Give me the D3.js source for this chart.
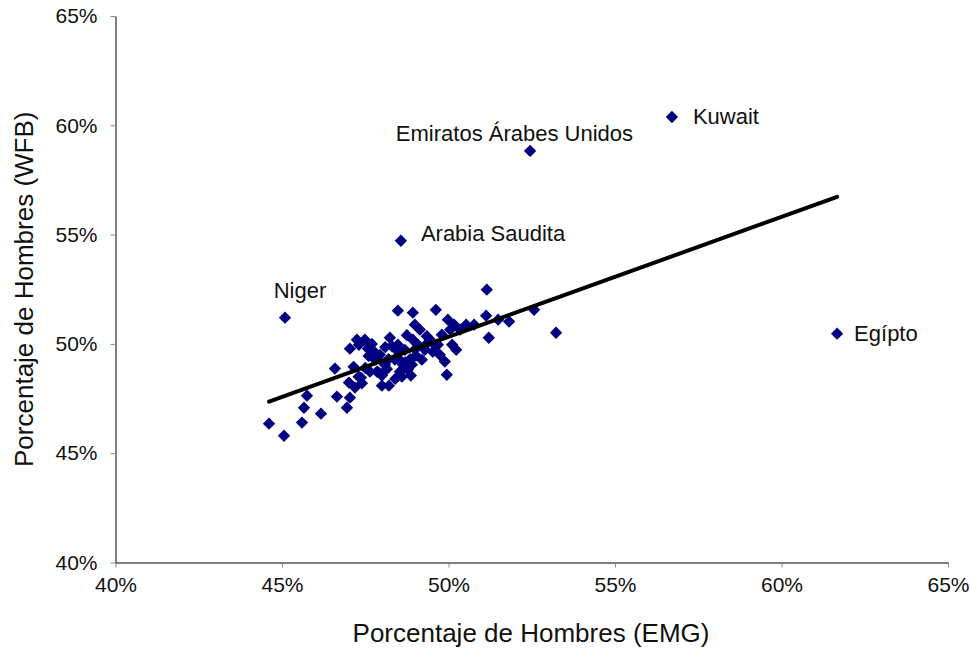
<!DOCTYPE html>
<html>
<head>
<meta charset="utf-8">
<script src="https://cdn.jsdelivr.net/npm/d3@7"></script>
<style>
  body { margin: 0; background: #fff; }
  svg text { font-family: "Liberation Sans", Arial, sans-serif; fill: #111; }
</style>
</head>
<body>
<svg id="chart" width="970" height="652"></svg>
<script>
// EMG (x) vs WFB (y), percent of men
var emg = [56.71, 52.45, 48.57, 45.09, 61.67, 53.23, 51.15, 52.57, 51.21,
    44.61, 45.06, 45.6, 45.66, 45.75, 46.17, 46.59, 46.65, 46.95, 47.04, 47.01,
    47.04, 47.19, 47.25, 47.31, 47.37, 47.49, 47.58, 47.64, 47.79, 47.85,
    47.94, 48.0, 48.09, 48.21, 48.24, 48.39, 48.48, 48.48, 48.54, 48.63,
    48.69, 48.78, 48.87, 48.9, 48.93, 48.93, 48.99, 49.02, 49.08, 49.14,
    49.2, 49.29, 49.38, 49.44, 49.53, 49.62, 49.68, 49.74, 49.8, 49.89,
    49.95, 49.98, 50.05, 50.11, 50.17, 50.23, 50.35, 50.53, 50.77, 51.13,
    51.49, 51.82, 48.0, 47.8, 47.5, 47.7, 47.3, 48.2, 48.4, 48.85, 48.6,
    48.45, 48.75, 47.9, 48.3, 47.15, 47.6, 48.1, 48.55, 49.0, 49.35, 48.15,
    47.4, 48.7, 49.5];
var wfb = [60.38, 58.83, 54.72, 51.2, 50.47, 50.51, 52.48, 51.56, 50.28,
    46.35, 45.8, 46.4, 47.08, 47.63, 46.81, 48.87, 47.59, 47.08, 47.54, 48.23,
    49.78, 48.0, 50.19, 49.96, 48.46, 50.19, 49.78, 48.73, 49.28, 48.73,
    49.5, 48.09, 49.05, 48.09, 50.28, 49.28, 49.96, 51.52, 48.73, 49.05,
    49.73, 48.82, 48.55, 49.05, 50.19, 51.43, 50.88, 49.46, 49.96, 50.65,
    49.28, 49.73, 50.05, 50.19, 49.64, 51.56, 49.96, 49.5, 50.42, 49.19,
    48.59, 51.11, 50.65, 49.96, 50.88, 49.73, 50.65, 50.88, 50.88, 51.29,
    51.11, 51.02, 48.55, 49.6, 48.9, 50.0, 48.5, 49.3, 48.4, 49.3, 48.5,
    49.7, 50.4, 48.7, 49.9, 48.95, 49.45, 49.85, 49.25, 49.75, 50.35, 48.85,
    48.2, 49.15, 50.1];
// labelled countries: index into emg/wfb, text offset from the point
var labels = [
  { name: "Kuwait", i: 0, dx: 21, dy: 7, anchor: "start" },
  { name: "Emiratos Árabes Unidos", i: 1, dx: 103, dy: -10, anchor: "end" },
  { name: "Arabia Saudita", i: 2, dx: 20, dy: 0, anchor: "start" },
  { name: "Niger", i: 3, dx: 15, dy: -20, anchor: "middle" },
  { name: "Egípto", i: 4, dx: 17, dy: 7, anchor: "start" }
];
var trendX = [44.61, 61.67];
var trendY = [47.36, 56.73];
var ticks = [40, 45, 50, 55, 60, 65];

var svg = d3.select("#chart");
var mLeft = 115.5, mRight = 948, mTop = 16, mBottom = 562.5;

var x = d3.scaleLinear().domain([40, 65]).range([mLeft, mRight]);
var y = d3.scaleLinear().domain([40, 65]).range([mBottom, mTop]);
var fmt = function (d) { return d + "%"; };

function styleAxis(g) {
    g.select(".domain").attr("stroke", "#000");
    g.selectAll("line").attr("stroke", "#888");
    g.selectAll("text").attr("font-size", 21).attr("fill", "#111");
}

svg.append("g")
    .attr("transform", "translate(0," + mBottom + ")")
    .call(d3.axisBottom(x).tickValues(ticks).tickFormat(fmt).tickSize(5).tickSizeOuter(0).tickPadding(10))
    .call(styleAxis);

svg.append("g")
    .attr("transform", "translate(" + mLeft + ",0)")
    .call(d3.axisLeft(y).tickValues(ticks).tickFormat(fmt).tickSize(5).tickSizeOuter(0).tickPadding(13))
    .call(styleAxis);

svg.append("text")
    .attr("x", 531).attr("y", 642)
    .attr("text-anchor", "middle").attr("font-size", 26)
    .text("Porcentaje de Hombres (EMG)");

svg.append("text")
    .attr("transform", "translate(33," + y(52.5) + ") rotate(-90)")
    .attr("text-anchor", "middle").attr("font-size", 26)
    .text("Porcentaje de Hombres (WFB)");

var diamond = d3.symbol().type(d3.symbolSquare).size(76);
svg.append("g").selectAll("path")
    .data(d3.range(emg.length))
    .enter()
    .append("path")
    .attr("d", diamond)
    .attr("transform", function (i) {
        return "translate(" + x(emg[i]) + "," + y(wfb[i]) + ") rotate(45)";
    })
    .attr("fill", "#000080");

svg.append("line")
    .attr("x1", x(trendX[0])).attr("y1", y(trendY[0]))
    .attr("x2", x(trendX[1])).attr("y2", y(trendY[1]))
    .attr("stroke", "#000").attr("stroke-width", 4).attr("stroke-linecap", "round");

svg.append("g").selectAll("text")
    .data(labels)
    .enter()
    .append("text")
    .attr("font-size", 22)
    .attr("x", function (d) { return x(emg[d.i]) + d.dx; })
    .attr("y", function (d) { return y(wfb[d.i]) + d.dy; })
    .attr("text-anchor", function (d) { return d.anchor; })
    .text(function (d) { return d.name; });
</script>
</body>
</html>
